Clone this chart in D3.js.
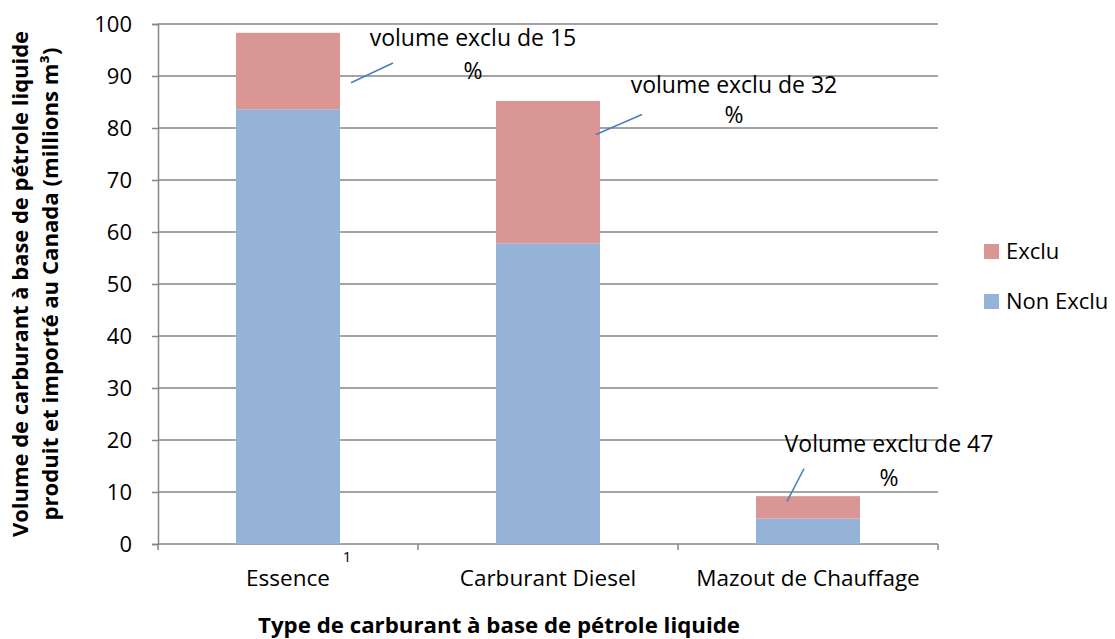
<!DOCTYPE html>
<html>
<head>
<meta charset="utf-8">
<script src="https://cdn.jsdelivr.net/npm/d3@7"></script>
<style>
  body { margin: 0; background: #fff; }
  text { font-family: "Open Sans", "Noto Sans", sans-serif; fill: #000; }
</style>
</head>
<body>
<div id="chart-area"></div>
<script>
// data
const categories = ["Essence", "Carburant Diesel", "Mazout de Chauffage"];
const nonExclu = [83.6, 57.8, 4.9];
const exclu = [14.7, 27.4, 4.3];
const yTicks = [0, 10, 20, 30, 40, 50, 60, 70, 80, 90, 100];
const labelLine1 = ["volume exclu de 15", "volume exclu de 32", "Volume exclu de 47"];
const labelLine2 = ["%", "%", "%"];

// layout of the data labels (offset from band centre in px, heights in data units)
const labelLayout = [
  { lx1: 63, lv1: 88.7, lx2: 105, lv2: 92.5, tx: 185, tv1: 95.7, tv2: 89.5 },
  { lx1: 48, lv1: 78.75, lx2: 94, lv2: 82.6, tx: 186, tv1: 86.8, tv2: 80.9 },
  { lx1: -21, lv1: 8.2, lx2: -4, lv2: 14.5, tx: 81, tv1: 17.6, tv2: 11.25 }
];

const MARGIN = { LEFT: 158, RIGHT: 177, TOP: 24, BOTTOM: 95 };
const WIDTH = 1115 - MARGIN.LEFT - MARGIN.RIGHT;
const HEIGHT = 639 - MARGIN.TOP - MARGIN.BOTTOM;
const GRID = "#868686";

const svg = d3.select("#chart-area").append("svg")
  .attr("width", 1115)
  .attr("height", 639);

const g = svg.append("g")
  .attr("transform", `translate(${MARGIN.LEFT}, ${MARGIN.TOP})`);

const x = d3.scaleBand()
  .domain(categories)
  .range([0, WIDTH])
  .paddingInner(0)
  .paddingOuter(0);

const y = d3.scaleLinear()
  .domain([0, 100])
  .range([HEIGHT, 0]);

const barW = x.bandwidth() * 0.4;

// gridlines
g.selectAll(".grid").data(yTicks.filter(d => d > 0)).enter()
  .append("line")
  .attr("x1", 0).attr("x2", WIDTH)
  .attr("y1", d => y(d)).attr("y2", d => y(d))
  .attr("stroke", GRID).attr("stroke-width", 1.5);

// y axis
const yAxis = g.append("g")
  .call(d3.axisLeft(y).tickValues(yTicks).tickSize(6).tickPadding(20));
yAxis.selectAll("path, line").attr("stroke", GRID).attr("stroke-width", 1.5);
yAxis.selectAll("text")
  .attr("font-size", "22px")
  .style("font-family", "'Open Sans', sans-serif")
  .attr("fill", "#000");

// x axis: ticks between categories
const xAxis = g.append("g")
  .attr("transform", `translate(0, ${HEIGHT})`);
xAxis.append("line")
  .attr("x1", 0).attr("x2", WIDTH)
  .attr("stroke", GRID).attr("stroke-width", 1.5);
xAxis.selectAll(".xtick").data([0, 1, 2, 3]).enter()
  .append("line")
  .attr("x1", i => i * x.step()).attr("x2", i => i * x.step())
  .attr("y1", 0).attr("y2", 6)
  .attr("stroke", GRID).attr("stroke-width", 1.5);
xAxis.selectAll(".xlab").data(categories).enter()
  .append("text")
  .attr("x", d => x(d) + x.bandwidth() / 2)
  .attr("y", 42)
  .attr("text-anchor", "middle")
  .attr("font-size", "22.5px")
  .text(d => d);
xAxis.append("text")
  .attr("x", x(categories[0]) + x.bandwidth() / 2 + 59)
  .attr("y", 18)
  .attr("text-anchor", "middle")
  .attr("font-size", "15px")
  .text("1");

// bars
g.selectAll(".bar-non").data(categories).enter()
  .append("rect")
  .attr("x", d => x(d) + (x.bandwidth() - barW) / 2)
  .attr("y", (d, i) => y(nonExclu[i]))
  .attr("width", barW)
  .attr("height", (d, i) => HEIGHT - y(nonExclu[i]))
  .attr("fill", "#95B3D7");

g.selectAll(".bar-ex").data(categories).enter()
  .append("rect")
  .attr("x", d => x(d) + (x.bandwidth() - barW) / 2)
  .attr("y", (d, i) => y(nonExclu[i] + exclu[i]))
  .attr("width", barW)
  .attr("height", (d, i) => y(nonExclu[i]) - y(nonExclu[i] + exclu[i]))
  .attr("fill", "#D99694");

// data labels with leader lines
categories.forEach((c, i) => {
  const L = labelLayout[i];
  const cx = x(c) + x.bandwidth() / 2;
  g.append("line")
    .attr("x1", cx + L.lx1).attr("y1", y(L.lv1))
    .attr("x2", cx + L.lx2).attr("y2", y(L.lv2))
    .attr("stroke", "#4A7EBB").attr("stroke-width", 1.5);
  g.append("text")
    .attr("x", cx + L.tx).attr("y", y(L.tv1))
    .attr("text-anchor", "middle")
    .attr("font-size", "23px")
    .text(labelLine1[i]);
  g.append("text")
    .attr("x", cx + L.tx).attr("y", y(L.tv2))
    .attr("text-anchor", "middle")
    .attr("font-size", "23px")
    .text(labelLine2[i]);
});

// legend
const legend = svg.append("g").attr("transform", "translate(984, 244)");
const legendItems = [["Exclu", "#D99694"], ["Non Exclu", "#95B3D7"]];
legendItems.forEach((d, i) => {
  legend.append("rect")
    .attr("x", 0).attr("y", i * 50)
    .attr("width", 15).attr("height", 15)
    .attr("fill", d[1]);
  legend.append("text")
    .attr("x", 22).attr("y", i * 50 + 15)
    .attr("font-size", "22px")
    .text(d[0]);
});

// axis titles
svg.append("text")
  .attr("x", 499)
  .attr("y", 633)
  .attr("text-anchor", "middle")
  .attr("font-size", "21px")
  .attr("font-weight", "700")
  .attr("textLength", 482)
  .attr("lengthAdjust", "spacingAndGlyphs")
  .text("Type de carburant à base de pétrole liquide");

const yTitle = svg.append("text")
  .attr("transform", `translate(0, ${MARGIN.TOP + HEIGHT / 2}) rotate(-90)`)
  .attr("text-anchor", "middle")
  .attr("font-size", "21px")
  .attr("font-weight", "700");
yTitle.append("tspan").attr("x", 0).attr("y", 28)
  .attr("textLength", 506).attr("lengthAdjust", "spacingAndGlyphs")
  .text("Volume de carburant à base de pétrole liquide");
yTitle.append("tspan").attr("x", 0).attr("y", 58)
  .attr("textLength", 473).attr("lengthAdjust", "spacingAndGlyphs")
  .text("produit et importé au Canada (millions m³)");
</script>
</body>
</html>
